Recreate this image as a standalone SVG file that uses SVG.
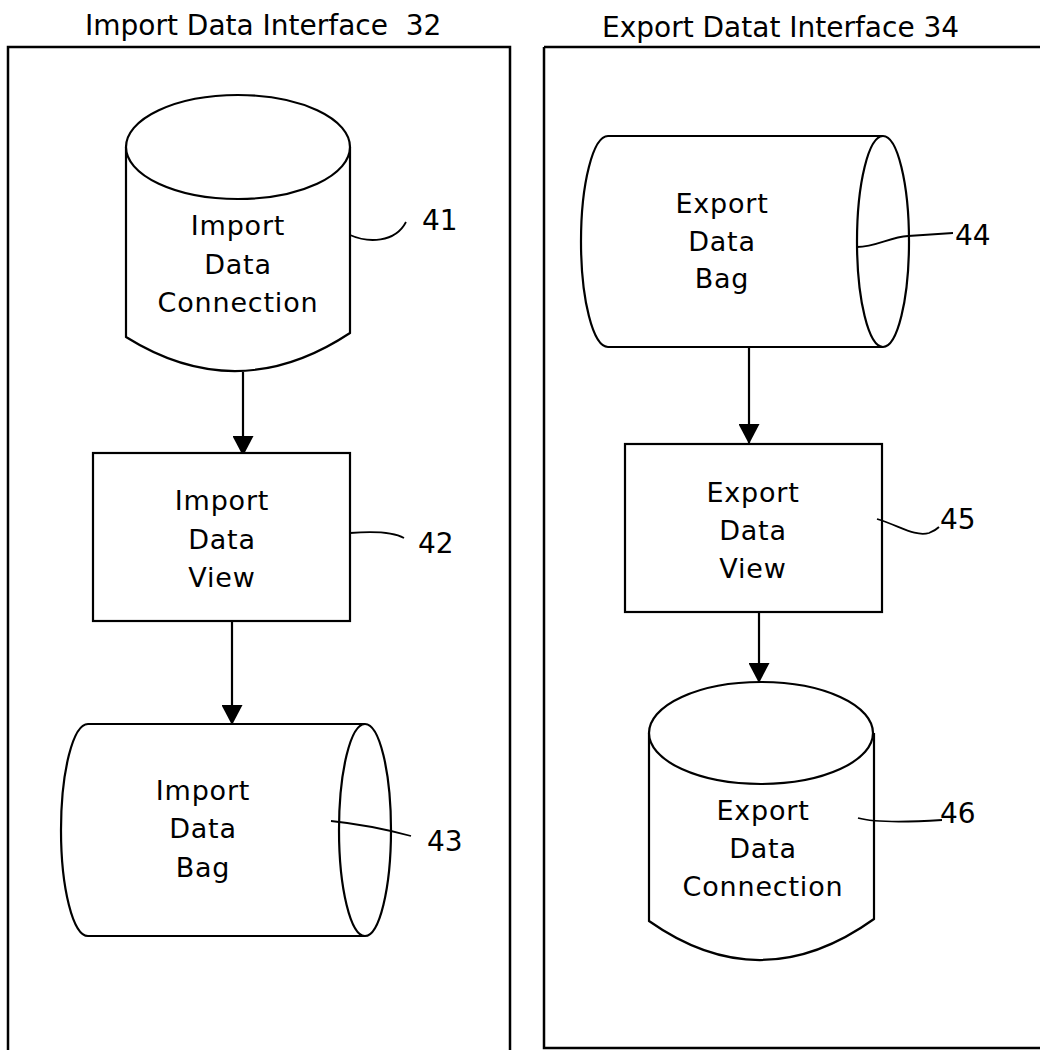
<svg xmlns="http://www.w3.org/2000/svg" width="1040" height="1050" viewBox="0 0 1040 1050">
<style>
  .frame { fill: none; stroke: #000; stroke-width: 2.5; }
  .shape { fill: #fff; stroke: #000; stroke-width: 2.2; }
  .lead { fill: none; stroke: #000; stroke-width: 1.8; }
  .conn { fill: none; stroke: #000; stroke-width: 2.2; marker-end: url(#arrow); }
  .title { font-family: "DejaVu Sans", "Liberation Sans", sans-serif; font-size: 28px; fill: #000; }
  .label { font-family: "DejaVu Sans", "Liberation Sans", sans-serif; font-size: 27px; letter-spacing: 0.8px; fill: #000; text-anchor: middle; }
  .num { font-family: "DejaVu Sans", "Liberation Sans", sans-serif; font-size: 28px; fill: #000; }
</style>
<defs>
  <marker id="arrow" markerUnits="userSpaceOnUse" viewBox="0 0 20 21" markerWidth="20" markerHeight="21" refX="20" refY="10.5" orient="auto">
    <path d="M0,0 L20,10.5 L0,21 z" fill="#000"/>
  </marker>
</defs>
<rect width="1040" height="1050" fill="#fff"/>

<g id="import-interface">
  <path class="frame" d="M8,1055 L8,47 L510,47 L510,1055"/>
  <text class="title" x="85" y="35" xml:space="preserve">Import Data Interface  32</text>
</g>
<g id="export-interface">
  <path class="frame" d="M544,47 L1050,47 M544,47 L544,1048 L1050,1048"/>
  <text class="title" x="602" y="37">Export Datat Interface 34</text>
</g>

<g id="connectors">
  <line class="conn" x1="243" y1="372" x2="243" y2="456"/>
  <line class="conn" x1="232" y1="621" x2="232" y2="725"/>
  <line class="conn" x1="749" y1="347" x2="749" y2="444"/>
  <line class="conn" x1="759" y1="612" x2="759" y2="683"/>
</g>

<g id="n41">
  <path class="shape" d="M126,147 L126,337 Q238,407 350,333 L350,147"/>
  <ellipse class="shape" cx="238" cy="147" rx="112" ry="52"/>
  <text class="label" x="238" y="235">Import</text>
  <text class="label" x="238" y="274">Data</text>
  <text class="label" x="238" y="312">Connection</text>
  <path class="lead" d="M350,235 C368,243 395,243 406,222"/>
  <text class="num" x="422" y="230">41</text>
</g>

<g id="n42">
  <rect class="shape" x="93" y="453" width="257" height="168"/>
  <text class="label" x="222" y="510">Import</text>
  <text class="label" x="222" y="549">Data</text>
  <text class="label" x="222" y="587">View</text>
  <path class="lead" d="M350,533 C375,531 395,533 404,538"/>
  <text class="num" x="418" y="553">42</text>
</g>

<g id="n43">
  <path class="shape" d="M365,724 L88,724 A27 106 0 0 0 88,936 L365,936"/>
  <ellipse class="shape" cx="365" cy="830" rx="26" ry="106"/>
  <text class="label" x="203" y="800">Import</text>
  <text class="label" x="203" y="838">Data</text>
  <text class="label" x="203" y="877">Bag</text>
  <path class="lead" d="M331,821 Q370,825 411,836"/>
  <text class="num" x="427" y="851">43</text>
</g>

<g id="n44">
  <path class="shape" d="M883,136 L608,136 A27 105.5 0 0 0 608,347 L883,347"/>
  <ellipse class="shape" cx="883" cy="241.5" rx="26" ry="105.5"/>
  <text class="label" x="722" y="213">Export</text>
  <text class="label" x="722" y="251">Data</text>
  <text class="label" x="722" y="288">Bag</text>
  <path class="lead" d="M857,247 C876,247 890,237 908,236 L953,233"/>
  <text class="num" x="955" y="245">44</text>
</g>

<g id="n45">
  <rect class="shape" x="625" y="444" width="257" height="168"/>
  <text class="label" x="753" y="502">Export</text>
  <text class="label" x="753" y="540">Data</text>
  <text class="label" x="753" y="578">View</text>
  <path class="lead" d="M877,519 C900,526 915,537 929,533 C934,531 937,529 939,527"/>
  <text class="num" x="940" y="529">45</text>
</g>

<g id="n46">
  <path class="shape" d="M649,733 L649,921 Q761,1000 874,919 L874,733"/>
  <ellipse class="shape" cx="761" cy="733" rx="112" ry="51"/>
  <text class="label" x="763" y="820">Export</text>
  <text class="label" x="763" y="858">Data</text>
  <text class="label" x="763" y="896">Connection</text>
  <path class="lead" d="M858,818 C876,823 910,822 942,820"/>
  <text class="num" x="940" y="823">46</text>
</g>
</svg>
